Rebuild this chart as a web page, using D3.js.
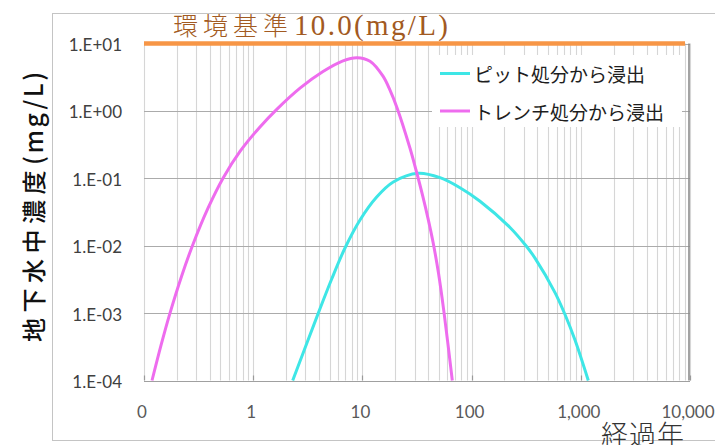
<!DOCTYPE html>
<html>
<head>
<meta charset="utf-8">
<script src="https://cdn.jsdelivr.net/npm/d3@7"></script>
<style>
  html, body { margin: 0; padding: 0; background: #fff; }
  svg { display: block; }
</style>
</head>
<body>
<svg id="chart" width="715" height="445"></svg>
<script>
// Elapsed years (x) and groundwater concentration in mg/L (y)
const pitYears = [2.300, 3.946, 5.234, 6.929, 9.507, 13.52, 19.18, 32.50, 51.35, 78.30, 119.4, 224.7, 314.9, 380.7, 580.4, 716.6, 884.9, 1171];
const pitConc  = [1e-4, 1e-3, 0.003206, 0.009245, 0.02406, 0.05278, 0.08812, 0.1187, 0.1021, 0.0725, 0.0457, 0.01866, 0.00998, 0.00655, 0.002015, 0.000953, 0.000398, 1e-4];

const trenchYears = [0.1184, 0.1431, 0.1730, 0.2205, 0.2811, 0.3855, 0.5291, 0.7570, 1.154, 1.652, 2.683, 4.358, 6.642, 8.924, 11.74, 15.44, 17.89, 20.74, 27.29, 30.97, 35.89, 39.88, 44.32, 49.78, 55.88, 66.57];
const trenchConc  = [1e-4, 3.318e-4, 1e-3, 0.003503, 0.01053, 0.03600, 0.1004, 0.2507, 0.5789, 1.065, 2.179, 3.842, 5.537, 6.167, 5.461, 3.272, 2.028, 1.116, 0.2787, 0.1328, 0.05269, 0.02550, 0.01135, 0.003889, 0.001024, 1e-4];

const standardYears = [0.1, 9000];
const standardConc  = [10, 10];

const seriesNames = ["ピット処分から浸出", "トレンチ処分から浸出"];
const seriesColors = ["#3ee6e6", "#ee6cee"];

const xTickValues = [0.1, 1, 10, 100, 1000, 10000];
const xTickLabels = ["0", "1", "10", "100", "1,000", "10,000"];
const yTickValues = [1e-4, 1e-3, 1e-2, 1e-1, 1, 10];
const yTickLabels = ["1.E-04", "1.E-03", "1.E-02", "1.E-01", "1.E+00", "1.E+01"];

const svg = d3.select("#chart");

const x = d3.scaleLog().domain([0.1, 10000]).range([144, 690]);
const y = d3.scaleLog().domain([1e-4, 10]).range([380.5, 43.5]);

// outer chart frame
svg.append("rect")
  .attr("x", 52.5).attr("y", 13.5).attr("width", 700).attr("height", 427)
  .attr("fill", "none").attr("stroke", "#c4c4c4").attr("stroke-width", 1);

// minor + major vertical gridlines (1..9 × each decade)
const vGrid = [];
for (let e = -1; e < 4; e++) {
  for (let m = 1; m <= 9; m++) vGrid.push(m * Math.pow(10, e));
}
vGrid.push(10000);
svg.append("g").selectAll("line").data(vGrid).join("line")
  .attr("x1", d => Math.round(x(d)) + 0.5).attr("x2", d => Math.round(x(d)) + 0.5)
  .attr("y1", y(10)).attr("y2", y(1e-4))
  .attr("stroke", "#d6d6d6").attr("stroke-width", 1.1);

// horizontal gridlines at each decade
svg.append("g").selectAll("line").data(yTickValues).join("line")
  .attr("x1", x(0.1)).attr("x2", x(10000))
  .attr("y1", d => Math.round(y(d)) + 0.5).attr("y2", d => Math.round(y(d)) + 0.5)
  .attr("stroke", "#ababab").attr("stroke-width", 1.2);

// axis lines
svg.append("line").attr("x1", x(0.1)).attr("x2", x(10000))
  .attr("y1", Math.round(y(1e-4)) + 0.5).attr("y2", Math.round(y(1e-4)) + 0.5)
  .attr("stroke", "#a0a0a0").attr("stroke-width", 1.2);
svg.append("line").attr("x1", x(10000) - 1).attr("x2", x(10000) - 1)
  .attr("y1", y(10)).attr("y2", y(1e-4))
  .attr("stroke", "#8c8c8c").attr("stroke-width", 1.6);
// short tick marks at decades on the bottom axis
svg.append("g").selectAll("line").data(xTickValues).join("line")
  .attr("x1", d => Math.round(x(d)) + 0.5).attr("x2", d => Math.round(x(d)) + 0.5)
  .attr("y1", y(1e-4) - 5).attr("y2", y(1e-4))
  .attr("stroke", "#9a9a9a").attr("stroke-width", 1.2);

// x tick labels
svg.append("g").selectAll("text").data(xTickValues).join("text")
  .attr("x", d => x(d) - 2).attr("y", 411)
  .attr("text-anchor", "middle").attr("dominant-baseline", "central")
  .attr("font-family", "Lato, 'Open Sans', sans-serif").attr("font-size", 17)
  .attr("fill", "#595959")
  .text((d, i) => xTickLabels[i]);

// y tick labels
svg.append("g").selectAll("text").data(yTickValues).join("text")
  .attr("x", 122).attr("y", d => y(d) + 1)
  .attr("text-anchor", "end").attr("dominant-baseline", "central")
  .attr("font-family", "Lato, 'Open Sans', sans-serif").attr("font-size", 17)
  .attr("fill", "#404040")
  .text((d, i) => yTickLabels[i]);

// series lines: smooth spline through the points
const line = d3.line()
  .x(d => x(d[0])).y(d => y(d[1]))
  .curve(d3.curveCatmullRom.alpha(0.5));

const pitData = pitYears.map((t, i) => [t, pitConc[i]]);
const trenchData = trenchYears.map((t, i) => [t, trenchConc[i]]);

svg.append("path").datum(pitData)
  .attr("d", line).attr("fill", "none")
  .attr("stroke", seriesColors[0]).attr("stroke-width", 3);
svg.append("path").datum(trenchData)
  .attr("d", line).attr("fill", "none")
  .attr("stroke", seriesColors[1]).attr("stroke-width", 3);

// environmental standard line (10 mg/L)
svg.append("path").datum(standardYears.map((t, i) => [t, standardConc[i]]))
  .attr("d", d3.line().x(d => x(d[0])).y(d => y(d[1])))
  .attr("fill", "none").attr("stroke", "#f79646").attr("stroke-width", 4.5);

// standard label
svg.append("text")
  .attr("x", 173).attr("y", 35)
  .attr("font-family", "'Noto Sans CJK JP', sans-serif").attr("font-size", 25)
  .attr("letter-spacing", 5)
  .attr("font-weight", 300)
  .attr("fill", "#a25a22")
  .text("環境基準");
svg.append("text")
  .attr("x", 294).attr("y", 35)
  .attr("font-family", "'Liberation Serif', 'DejaVu Serif', serif").attr("font-size", 29)
  .attr("textLength", 154).attr("lengthAdjust", "spacing")
  .attr("fill", "#a25a22")
  .text("10.0(mg/L)");

// legend
const legend = svg.append("g");
legend.append("rect")
  .attr("x", 432).attr("y", 55).attr("width", 250).attr("height", 72)
  .attr("fill", "#fff");
seriesNames.forEach((name, i) => {
  const ly = 73.5 + i * 37.5;
  legend.append("line")
    .attr("x1", 440).attr("x2", 470).attr("y1", ly).attr("y2", ly)
    .attr("stroke", seriesColors[i]).attr("stroke-width", 3);
  legend.append("text")
    .attr("x", 474).attr("y", ly)
    .attr("dominant-baseline", "central")
    .attr("font-family", "'Noto Sans CJK JP', sans-serif").attr("font-size", 19)
    .attr("fill", "#1e1e1e")
    .text(name);
});

// y axis title
const yTitle = svg.append("text")
  .attr("transform", "translate(32,342) rotate(-90)")
  .attr("text-anchor", "start").attr("dominant-baseline", "central")
  .attr("font-family", "'Noto Sans CJK JP', sans-serif")
  .attr("font-weight", 500)
  .attr("fill", "#111");
yTitle.append("tspan").attr("font-size", 24).attr("letter-spacing", 5.5).text("地下水中濃度");
yTitle.append("tspan").attr("font-size", 25).attr("letter-spacing", 2.5).text("(mg/L)");

// x axis title
svg.append("text")
  .attr("x", 601).attr("y", 445)
  .attr("font-family", "'Noto Sans CJK JP', sans-serif").attr("font-size", 27)
  .attr("font-weight", 300)
  .attr("letter-spacing", 1)
  .attr("fill", "#333")
  .text("経過年");
</script>
</body>
</html>
